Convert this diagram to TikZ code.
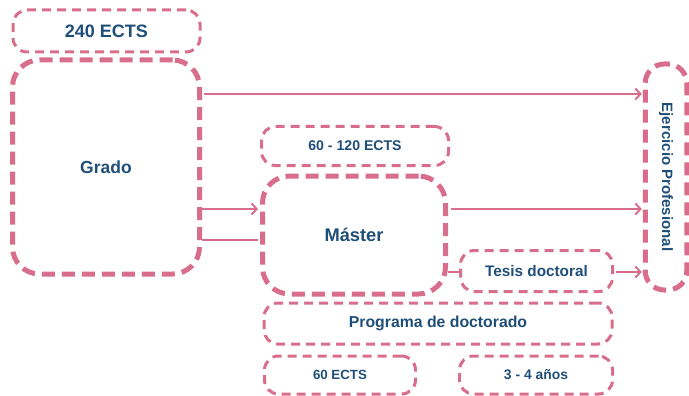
\documentclass[tikz,border=0pt]{standalone}
\usepackage{fontspec}
\setmainfont{Liberation Sans}
\usetikzlibrary{arrows.meta}
\definecolor{pinkline}{RGB}{217,110,140}
\definecolor{txtblue}{RGB}{31,78,121}
\tikzset{
  thinbox/.style={draw=pinkline, line width=3pt, dash pattern=on 9pt off 6pt, rounded corners=14pt, text=txtblue, font=\bfseries, inner sep=0pt},
  thickbox/.style={draw=pinkline, line width=5pt, dash pattern=on 13pt off 7pt, rounded corners=27pt, text=txtblue, font=\bfseries, inner sep=0pt},
  conn/.style={draw=pinkline, line width=2pt},
  arr/.style={conn, -{Straight Barb[length=5pt,width=11pt]}},
}
\newcommand{\fs}[1]{\fontsize{#1}{#1}\selectfont}
\begin{document}
\begin{tikzpicture}[x=1pt,y=-1pt]
\useasboundingbox (0,0) rectangle (689,396);
\node[thinbox, minimum width=187pt, minimum height=42pt] (b240) at (106.5,31) {\fs{18}240 ECTS};
\node[thickbox, minimum width=187pt, minimum height=214pt] (grado) at (106,167) {\fs{17.5}Grado};
\node[thinbox, minimum width=187pt, minimum height=39pt] (m60) at (355,146) {\fs{14.1}60 - 120 ECTS};
\node[thickbox, minimum width=183pt, minimum height=118pt] (master) at (354,235) {\fs{18.3}Máster};
\node[thinbox, minimum width=152pt, minimum height=41pt] (tesis) at (536.5,271) {\fs{15.3}Tesis doctoral};
\node[thinbox, minimum width=348pt, minimum height=41pt] (prog) at (438,323.5) {\fs{15.8}Programa de doctorado};
\node[thinbox, minimum width=151pt, minimum height=38pt] (e60) at (340,375) {\fs{13.3}60 ECTS};
\node[thinbox, minimum width=153pt, minimum height=38pt] (anos) at (536,375) {\fs{13.9}3 - 4 años};
\node[thickbox, rounded corners=19pt, minimum width=41.5pt, minimum height=226pt] (ejer) at (666,177) {};
\node[text=txtblue, font=\bfseries, rotate=-90] (ejertxt) at (ejer.center) {\fs{15}Ejercicio Profesional};
\coordinate (y1) at (0,94);
\coordinate (y2) at (0,209);
\coordinate (y3) at (0,240);
\coordinate (y4) at (0,272);
\draw[arr, shorten <=2pt, shorten >=1pt] (grado.east |- y1) -- (ejer.west |- y1);
\draw[arr, shorten >=2pt] (grado.east |- y2) -- (master.west |- y2);
\draw[conn, shorten >=2pt] (grado.east |- y3) -- (master.west |- y3);
\draw[arr, shorten <=3pt, shorten >=1pt] (master.east |- y2) -- (ejer.west |- y2);
\draw[conn] (master.east |- y4) -- (tesis.west |- y4);
\draw[arr, shorten <=2pt, shorten >=1pt] (tesis.east |- y4) -- (ejer.west |- y4);
\end{tikzpicture}
\end{document}
